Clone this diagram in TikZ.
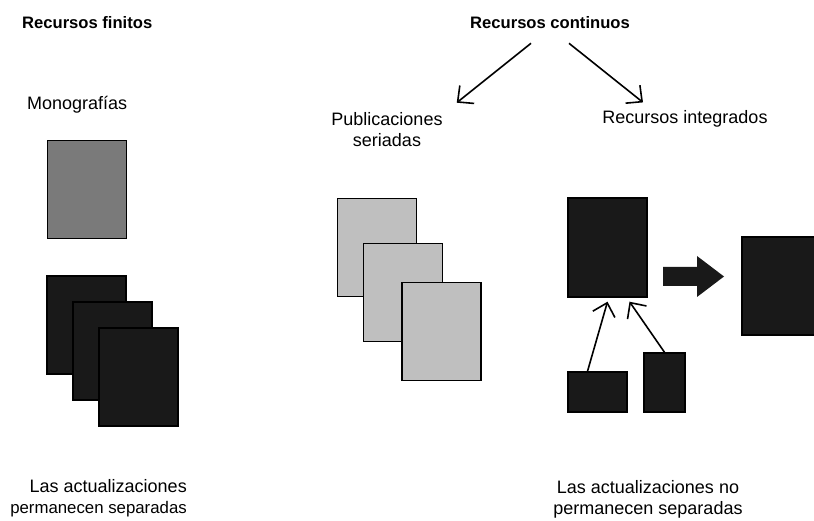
\documentclass[tikz,border=0pt]{standalone}
\usepackage{fontspec}
\setmainfont{Liberation Sans}
\usetikzlibrary{positioning,calc,arrows.meta}

\tikzset{
  lbl/.style={font=\fontsize{18}{21}\selectfont, inner sep=0pt},
  head/.style={font=\fontsize{16.6}{20}\selectfont\bfseries, inner sep=0pt},
  page/.style={draw=black, line width=1.4pt, inner sep=0pt, minimum width=79, minimum height=98},
  dark/.style={page, fill=black!90},
  mid/.style={page, fill=black!52},
  light/.style={page, fill=black!25},
  arr/.style={-{Straight Barb[length=12pt,width=23pt,line width=1.6pt]}, line width=1.6pt}
}

\begin{document}
\begin{tikzpicture}[x=1pt,y=-1pt]
\useasboundingbox (0,0) rectangle (814,521);
% titulos
\node[head, anchor=west] (rf) at (22,23) {Recursos finitos};
\node[head] (rc) at (550,23) {Recursos continuos};
\node[lbl, anchor=west] (mono) at (27,105) {Monografías};
\node[lbl, align=center] (ps) at (387,130) {Publicaciones\\seriadas};
\node[lbl] (ri) at (685,119) {Recursos integrados};
% monografias
\node[mid] (m0) at (87,189.5) {};
\node[dark] (f1) at (86.5,325) {};
\node[dark] (f2) at (112.5,351) {};
\node[dark] (f3) at (138.5,377) {};
% publicaciones seriadas
\node[light] (s1) at (377,247.5) {};
\node[light] (s2) at (403,292.5) {};
\node[light] (s3) at (441.5,331.5) {};
% recursos integrados
\node[dark, minimum height=99] (ir) at (607.5,247.5) {};
\node[dark, minimum width=59, minimum height=40] (sm1) at (597.5,392) {};
\node[dark, minimum width=41, minimum height=59] (sm2) at (664.5,382.5) {};
\node[dark, minimum width=80] (big) at (782,286) {};
\coordinate (ba) at (663,276.5);
\fill[black!90] (ba) -- ++(0,-9.5) -- ++(34,0) -- ++(0,-11) -- ++(27,20.5)
  -- ++(-27,20.5) -- ++(0,-11) -- ++(-34,0) -- cycle;
% flechas
\draw[arr] ($(rc.south)+(-19,14)$) -- ($(ps.north east)+(14,-10)$);
\draw[arr] ($(rc.south)+(19,14)$) -- ($(ri.north)+(-42,-8)$);
\draw[arr] ($(sm1.north)+(-10,0)$) -- ($(ir.south)+(0,4)$);
\draw[arr] (sm2.north) -- ($(ir.south)+(22,4)$);
% textos inferiores
\node[lbl, align=right, anchor=east] (t1) at (187,498.5) {Las actualizaciones\\{\fontsize{16.8}{19}\selectfont permanecen separadas}};
\node[lbl, align=center] (t2) at (648,499) {Las actualizaciones no\\permanecen separadas};
\end{tikzpicture}
\end{document}
